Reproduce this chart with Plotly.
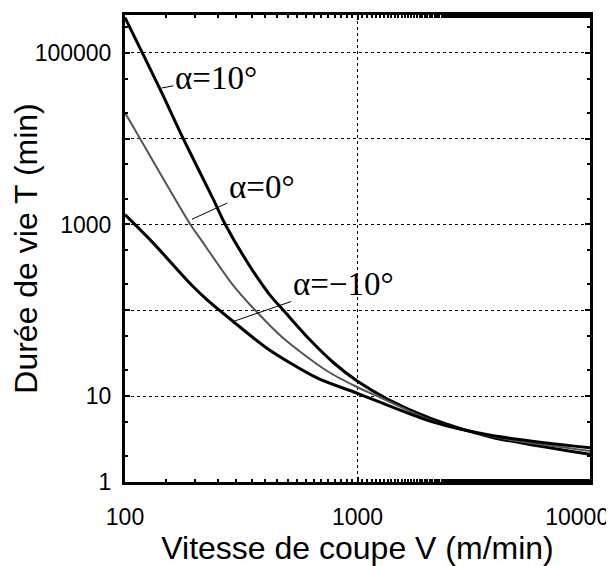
import numpy as np
import plotly.graph_objects as go

# cutting speed V (m/min) and tool life T (min)
v_pos10 = [100, 142, 178, 239, 270, 346, 422, 480, 627, 789, 1000, 1350, 2065, 3740, 10000]
t_pos10 = [257000, 36900, 10000, 2000, 1000, 320, 148, 100, 44.7, 24.5, 14.9, 9.2, 5.5, 3.35, 2.1]

v_zero = [100, 116, 191, 210, 292, 363, 480, 743, 1000, 1250, 2065, 3740, 10000]
t_zero = [20000, 10000, 1000, 692, 195, 100, 47.2, 19.5, 12.7, 9.7, 5.25, 3.4, 2.3]

v_neg10 = [100, 132, 191, 225, 292, 409, 673, 1000, 2065, 3740, 10000]
t_neg10 = [1300, 610, 204, 133, 74, 36, 16.2, 10.8, 5.1, 3.5, 2.5]

y_ticks = [1, 10, 100, 1000, 10000, 100000]
y_ticktext = ["1", "10", "", "1000", "", "100000"]
x_ticks = [100, 1000, 10000]
x_ticktext = ["100", "1000", "10000&nbsp;&nbsp;&nbsp;&nbsp;"]

# label text, anchor point on curve (V, T), text offset in px
labels = [
    ("α=10°", 144, 38900, 54, -10),
    ("α=0°", 194, 1150, 70, -32),
    ("α=−10°", 292, 74, 110, -38),
]

fig = go.Figure()
fig.add_trace(go.Scatter(x=v_pos10, y=t_pos10, mode="lines",
                         line=dict(color="black", width=3, shape="spline", smoothing=0.8)))
fig.add_trace(go.Scatter(x=v_zero, y=t_zero, mode="lines",
                         line=dict(color="#555555", width=2, shape="spline", smoothing=0.8)))
fig.add_trace(go.Scatter(x=v_neg10, y=t_neg10, mode="lines",
                         line=dict(color="black", width=3, shape="spline", smoothing=0.8)))

for text, v, t, ax, ay in labels:
    fig.add_annotation(
        x=np.log10(v), y=np.log10(t), text=text,
        showarrow=True, arrowhead=0, arrowwidth=1, arrowcolor="black",
        ax=ax, ay=ay,
        font=dict(family="Liberation Serif", size=33, color="black"),
    )

tick_font = dict(family="Liberation Sans, Arial", size=23, color="black")
title_font = dict(family="Liberation Sans, Arial", size=32, color="black")

fig.update_xaxes(
    type="log", range=[2, 4],
    tickvals=x_ticks, ticktext=x_ticktext,
    ticks="inside", ticklen=5, tickwidth=2, tickcolor="black",
    minor=dict(ticks="inside", ticklen=3, tickwidth=2, tickcolor="black", showgrid=False),
    showline=True, linewidth=3, linecolor="black", mirror="ticks",
    showgrid=True, gridcolor="black", gridwidth=1, griddash="dot",
    tickfont=tick_font, ticklabelstandoff=12, ticklabeloverflow="allow",
    title=dict(text="Vitesse de coupe V (m/min)", font=title_font, standoff=0),
    zeroline=False, automargin=False,
)
fig.update_yaxes(
    type="log", range=[0, 5.44],
    tickvals=y_ticks, ticktext=y_ticktext,
    ticks="inside", ticklen=5, tickwidth=2, tickcolor="black",
    minor=dict(ticks="inside", ticklen=3, tickwidth=2, tickcolor="black", showgrid=False),
    showline=True, linewidth=3, linecolor="black", mirror="ticks",
    showgrid=True, gridcolor="black", gridwidth=1, griddash="dot",
    tickfont=tick_font, ticklabelstandoff=6, ticklabeloverflow="allow",
    title=dict(text="Durée de vie T (min)", font=title_font, standoff=0),
    zeroline=False, automargin=False,
)
# page body has an 8px margin, so the figure is sized to the visible area
fig.update_layout(
    width=606, height=558,
    margin=dict(l=117, r=24, t=7, b=84),
    plot_bgcolor="white", paper_bgcolor="white",
    showlegend=False,
)
fig.write_html("out.html")
